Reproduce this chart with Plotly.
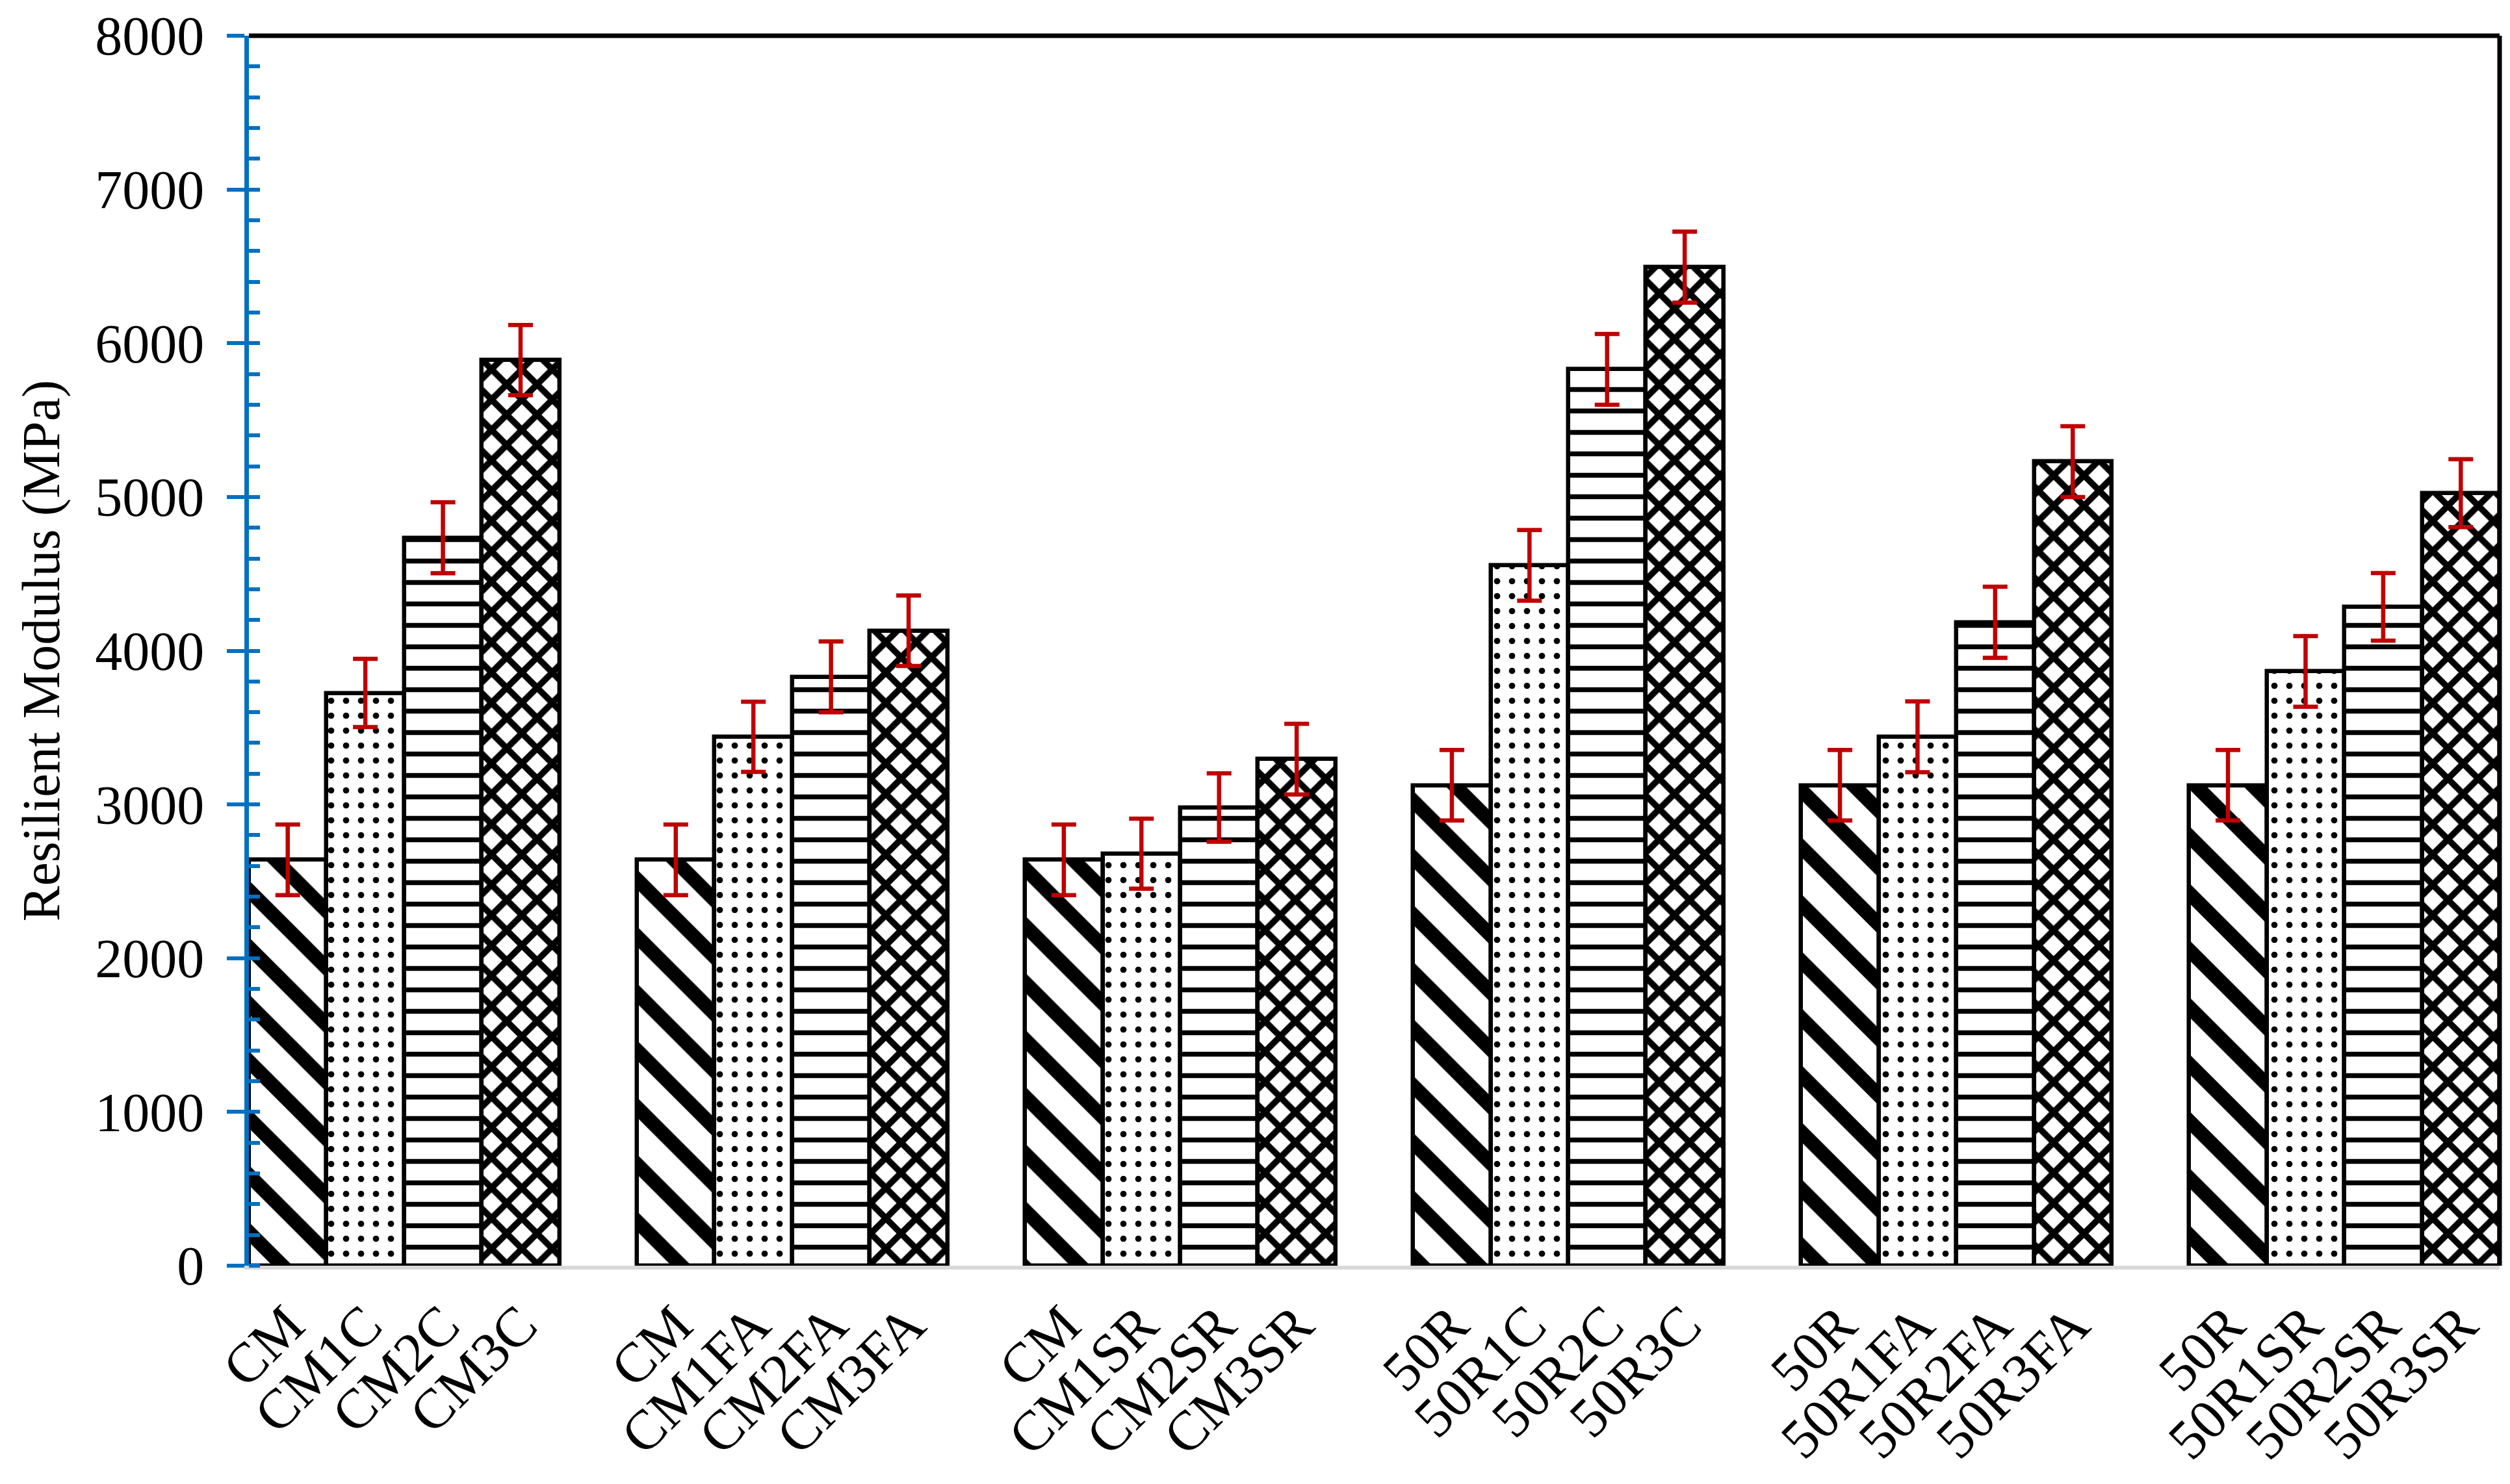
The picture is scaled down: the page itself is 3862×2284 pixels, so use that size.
import plotly.graph_objects as go

# ---- data ----
labels = ["CM", "CM1C", "CM2C", "CM3C",
          "CM", "CM1FA", "CM2FA", "CM3FA",
          "CM", "CM1SR", "CM2SR", "CM3SR",
          "50R", "50R1C", "50R2C", "50R3C",
          "50R", "50R1FA", "50R2FA", "50R3FA",
          "50R", "50R1SR", "50R2SR", "50R3SR"]
modulus = [2640, 3725, 4735, 5890,
           2640, 3440, 3830, 4130,
           2640, 2680, 2980, 3295,
           3125, 4555, 5830, 6495,
           3125, 3440, 4185, 5230,
           3125, 3865, 4285, 5025]
errors = [230, 222, 231, 228,
          230, 228, 230, 229,
          230, 228, 222, 230,
          229, 230, 230, 231,
          229, 230, 231, 230,
          229, 230, 220, 221]
y_ticks = [0, 1000, 2000, 3000, 4000, 5000, 6000, 7000, 8000]

n_groups = 6
per_group = 4
slot = per_group + 1  # one empty category between groups

patterns = [
    dict(shape="\\", size=62, solidity=0.35),
    dict(shape=".", size=23, solidity=0.14),
    dict(shape="-", size=33, solidity=0.23),
    dict(shape="x", size=33, solidity=0.5),
]

FONT = "Liberation Serif"
BLUE = "#0070C0"
RED = "#C00000"

fig = go.Figure()
positions = []
for g in range(n_groups):
    for k in range(per_group):
        positions.append(g * slot + k)

for k in range(per_group):
    idx = [g * per_group + k for g in range(n_groups)]
    fig.add_trace(go.Bar(
        x=[positions[i] for i in idx],
        y=[modulus[i] for i in idx],
        width=1,
        error_y=dict(type="data", array=[errors[i] for i in idx],
                     color=RED, thickness=6.5, width=19),
        marker=dict(color="white",
                    line=dict(color="black", width=6.5),
                    pattern=dict(fgcolor="black", bgcolor="white",
                                 fgopacity=1, **patterns[k])),
        showlegend=False,
    ))

# page body has an 8px default margin, so the figure is 8px smaller
fig.update_layout(
    width=3854, height=2276,
    paper_bgcolor="white", plot_bgcolor="white",
    barmode="overlay", bargap=0,
    margin=dict(l=375, r=16, t=47, b=336, pad=0, autoexpand=False),
    font=dict(family=FONT, color="black", size=84),
    xaxis=dict(
        range=[-0.5, n_groups * slot - 1.5],
        tickvals=positions, ticktext=labels,
        tickangle=-45, tickfont=dict(family=FONT, size=86, color="black"),
        showline=True, linecolor="#D9D9D9", linewidth=6,
        ticks="", showgrid=False, zeroline=False, automargin=False,
    ),
    yaxis=dict(
        range=[0, 8000], tickvals=y_ticks,
        tickfont=dict(family=FONT, size=84, color="black"),
        ticks="outside", ticklen=27, tickwidth=6, tickcolor=BLUE,
        showline=True, linecolor=BLUE, linewidth=7,
        minor=dict(dtick=200, ticks="inside", ticklen=17, tickwidth=6,
                   tickcolor=BLUE),
        showgrid=False, zeroline=False, automargin=False,
        title=dict(text="Resilient Modulus (MPa)",
                   font=dict(family=FONT, size=82, color="black"),
                   standoff=30),
        ticklabelstandoff=18,
    ),
    yaxis2=dict(
        overlaying="y", anchor="x", side="left",
        range=[0, 8000], tickvals=y_ticks,
        ticks="inside", ticklen=17, tickwidth=6, tickcolor=BLUE,
        showticklabels=False, showgrid=False, zeroline=False, showline=False,
        automargin=False,
    ),
    shapes=[
        dict(type="line", xref="paper", yref="paper", x0=0, x1=1, y0=1, y1=1,
             line=dict(color="black", width=7)),
        dict(type="line", xref="paper", yref="paper", x0=1, x1=1, y0=0, y1=1,
             line=dict(color="black", width=7)),
    ],
)

fig.write_html("out.html")
